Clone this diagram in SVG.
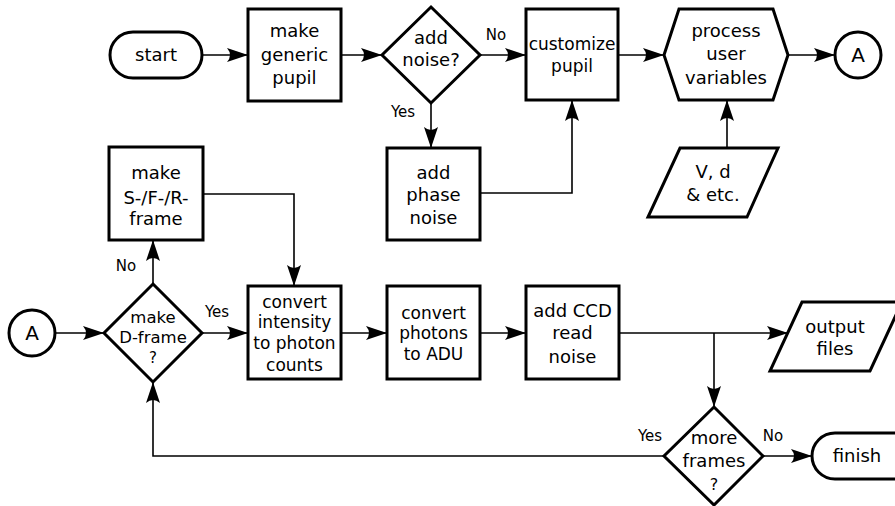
<svg xmlns="http://www.w3.org/2000/svg" width="895" height="506" viewBox="0 0 895 506">
<defs>
<marker id="arr" markerUnits="userSpaceOnUse" markerWidth="26" markerHeight="18" refX="22" refY="9" orient="auto" viewBox="0 0 26 18">
<path d="M22,9 L1,2 Q7,9 1,16 Z" fill="#000"/>
</marker>
<style>
.n{fill:#fff;stroke:#000;stroke-width:3;stroke-linejoin:miter}
.c{fill:none;stroke:#000;stroke-width:1.6}
.t{font-family:"DejaVu Sans",sans-serif;font-size:18px;text-anchor:middle;fill:#000}
.l{font-family:"DejaVu Sans",sans-serif;font-size:15px;text-anchor:middle;fill:#000}
</style>
</defs>
<rect width="895" height="506" fill="#fff"/>
<g id="connectors">
<path class="c" d="M202,55 H248" marker-end="url(#arr)"/>
<path class="c" d="M341,55 H382" marker-end="url(#arr)"/>
<path class="c" d="M480,55 H526" marker-end="url(#arr)"/>
<path class="c" d="M431,103 V148" marker-end="url(#arr)"/>
<path class="c" d="M480,193 H572 V100" marker-end="url(#arr)"/>
<path class="c" d="M618,55 H664" marker-end="url(#arr)"/>
<path class="c" d="M788,55 H835" marker-end="url(#arr)"/>
<path class="c" d="M727,148 V100" marker-end="url(#arr)"/>
<path class="c" d="M55,333 H104" marker-end="url(#arr)"/>
<path class="c" d="M153,284 V240" marker-end="url(#arr)"/>
<path class="c" d="M203,194 H294 V286" marker-end="url(#arr)"/>
<path class="c" d="M202,333 H248" marker-end="url(#arr)"/>
<path class="c" d="M341,333 H387" marker-end="url(#arr)"/>
<path class="c" d="M480,333 H526" marker-end="url(#arr)"/>
<path class="c" d="M619,333 H788" marker-end="url(#arr)"/>
<path class="c" d="M714,333 V407" marker-end="url(#arr)"/>
<path class="c" d="M664,456 H153 V382" marker-end="url(#arr)"/>
<path class="c" d="M763,456 H812" marker-end="url(#arr)"/>
<text class="l" x="403" y="117">Yes</text>
<text class="l" x="496" y="40">No</text>
<text class="l" x="126" y="271">No</text>
<text class="l" x="217" y="317">Yes</text>
<text class="l" x="650" y="441">Yes</text>
<text class="l" x="773" y="441">No</text>
</g>
<g id="start">
<rect class="n" x="110" y="32" width="92" height="46" rx="23" ry="23"/>
<text class="t" x="156" y="61">start</text>
</g>
<g id="generic">
<rect class="n" x="248" y="9" width="93" height="92"/>
<text class="t" x="294.5" y="37">make</text>
<text class="t" x="294.5" y="61">generic</text>
<text class="t" x="294.5" y="84">pupil</text>
</g>
<g id="addnoise">
<polygon class="n" points="431,7 480,55 431,103 382,55"/>
<text class="t" x="431" y="44">add</text>
<text class="t" x="431" y="66">noise?</text>
</g>
<g id="phase">
<rect class="n" x="387" y="148" width="93" height="92"/>
<text class="t" x="433.5" y="179">add</text>
<text class="t" x="433.5" y="201">phase</text>
<text class="t" x="433.5" y="224">noise</text>
</g>
<g id="customize">
<rect class="n" x="526" y="9" width="92" height="91"/>
<text class="t" x="572" y="50" style="font-size:17px">customize</text>
<text class="t" x="572" y="72" style="font-size:17px">pupil</text>
</g>
<g id="process">
<polygon class="n" points="664,55 679,9 773,9 788,55 773,100 679,100"/>
<text class="t" x="726" y="37">process</text>
<text class="t" x="726" y="60">user</text>
<text class="t" x="726" y="84">variables</text>
</g>
<g id="A1">
<circle class="n" cx="858" cy="55" r="23"/>
<text class="t" x="858" y="62" style="font-size:20px">A</text>
</g>
<g id="vd">
<polygon class="n" points="680,148 778,148 747,217 648,217"/>
<text class="t" x="713" y="178">V, d</text>
<text class="t" x="713" y="201">&amp; etc.</text>
</g>
<g id="sframe">
<rect class="n" x="109" y="147" width="94" height="93"/>
<text class="t" x="156" y="179">make</text>
<text class="t" x="156" y="204">S-/F-/R-</text>
<text class="t" x="156" y="225">frame</text>
</g>
<g id="A2">
<circle class="n" cx="32" cy="333" r="23"/>
<text class="t" x="32" y="340" style="font-size:20px">A</text>
</g>
<g id="dframe">
<polygon class="n" points="153,284 202,333 153,382 104,333"/>
<text class="t" x="153" y="323" style="font-size:16.5px">make</text>
<text class="t" x="153" y="343" style="font-size:16.5px">D-frame</text>
<text class="t" x="153" y="363" style="font-size:15px">?</text>
</g>
<g id="intensity">
<rect class="n" x="248" y="286" width="93" height="93"/>
<text class="t" x="294.5" y="308" style="font-size:17px">convert</text>
<text class="t" x="294.5" y="328" style="font-size:17px">intensity</text>
<text class="t" x="294.5" y="349" style="font-size:17px">to photon</text>
<text class="t" x="294.5" y="371" style="font-size:17px">counts</text>
</g>
<g id="photons">
<rect class="n" x="387" y="286" width="93" height="93"/>
<text class="t" x="433.5" y="319" style="font-size:17px">convert</text>
<text class="t" x="433.5" y="339" style="font-size:17px">photons</text>
<text class="t" x="433.5" y="360" style="font-size:17px">to ADU</text>
</g>
<g id="ccd">
<rect class="n" x="526" y="286" width="93" height="93"/>
<text class="t" x="572.5" y="317">add CCD</text>
<text class="t" x="572.5" y="339">read</text>
<text class="t" x="572.5" y="363">noise</text>
</g>
<g id="output">
<polygon class="n" points="802,302 902,302 870,371 770,371"/>
<text class="t" x="835" y="333">output</text>
<text class="t" x="835" y="355">files</text>
</g>
<g id="more">
<polygon class="n" points="714,407 763,456 714,505 664,456"/>
<text class="t" x="714" y="444">more</text>
<text class="t" x="714" y="467">frames</text>
<text class="t" x="714" y="490" style="font-size:16px">?</text>
</g>
<g id="finish">
<rect class="n" x="812" y="433" width="110" height="46" rx="23" ry="23"/>
<text class="t" x="857" y="462">finish</text>
</g>
</svg>
